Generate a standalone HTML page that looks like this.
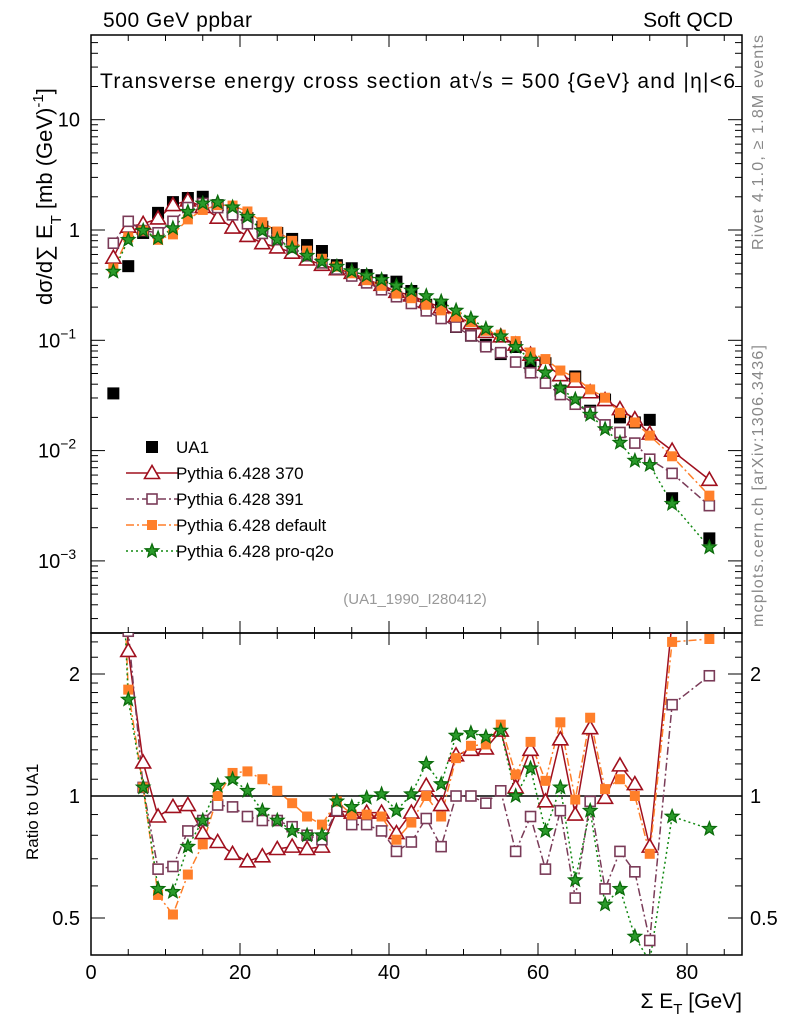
<!DOCTYPE html>
<html><head><meta charset="utf-8"><style>
body{margin:0;background:#fff;}
svg{font-family:"Liberation Sans",sans-serif;}
</style></head><body>
<svg id="c" width="786" height="1024" xmlns="http://www.w3.org/2000/svg">
<defs>
<clipPath id="clipTop"><rect x="91" y="35" width="651" height="598"/></clipPath>
<clipPath id="clipBot"><rect x="91" y="633" width="651" height="322"/></clipPath>
</defs>
<text x="103" y="27" font-size="21" textLength="149">500 GeV ppbar</text>
<text x="733" y="27" font-size="21" text-anchor="end">Soft QCD</text>
<text x="100" y="88" font-size="21" textLength="635">Transverse energy cross section at√s = 500 {GeV} and |η|&lt;6</text>
<text transform="translate(763,250) rotate(-90)" font-size="16" textLength="215" fill="#888">Rivet 4.1.0, ≥ 1.8M events</text>
<text transform="translate(763,627) rotate(-90)" font-size="16" textLength="282" fill="#888">mcplots.cern.ch [arXiv:1306.3436]</text>
<text x="415" y="604" font-size="15" fill="#999" text-anchor="middle">(UA1_1990_I280412)</text>
<text transform="translate(52,305) rotate(-90)" font-size="22">dσ/d∑ E<tspan font-size="15" dy="9">T</tspan><tspan dy="-9"> [mb (GeV)</tspan><tspan font-size="15" dy="-9">-1</tspan><tspan dy="9">]</tspan></text>
<text transform="translate(38,860) rotate(-90)" font-size="17">Ratio to UA1</text>
<text x="742" y="1008" font-size="21" text-anchor="end">Σ E<tspan font-size="15" dy="6">T</tspan><tspan dy="-6"> [GeV]</tspan></text>
<g id="g"></g>
</svg>
<script>
const xs=[3,5,7,9,11,13,15,17,19,21,23,25,27,29,31,33,35,37,39,41,43,45,47,49,51,53,55,57,59,61,63,65,67,69,71,73,75,78,83];
const ua1=[0.033,0.47,0.94,1.43,1.79,1.95,2.0,1.68,1.46,1.28,1.07,0.94,0.83,0.73,0.645,0.48,0.45,0.39,0.35,0.34,0.28,0.21,0.21,0.132,0.11,0.091,0.075,0.087,0.057,0.062,0.035,0.047,0.023,0.029,0.020,0.018,0.019,0.0037,0.0016];
const r370=[17,2.28,1.21,0.89,0.94,0.95,0.81,0.77,0.72,0.69,0.71,0.74,0.75,0.74,0.75,0.92,0.91,0.91,0.91,0.81,0.91,1.06,0.95,1.26,1.3,1.31,1.45,1.05,1.3,0.97,1.38,0.9,1.47,0.99,1.19,1.07,0.75,2.7,3.4];
const r391=[23,2.55,1.05,0.66,0.67,0.82,0.87,0.95,0.94,0.89,0.87,0.87,0.84,0.8,0.78,0.92,0.85,0.85,0.82,0.73,0.77,0.88,0.75,1.0,1.0,0.96,1.03,0.73,0.89,0.66,0.92,0.56,0.97,0.59,0.73,0.65,0.44,1.68,1.98];
const rdef=[13.6,1.83,1.05,0.57,0.51,0.64,0.76,1.0,1.14,1.15,1.1,1.03,0.96,0.89,0.85,0.97,0.9,0.9,0.89,0.78,0.86,1.0,0.89,1.24,1.33,1.34,1.5,1.13,1.36,1.09,1.52,0.98,1.56,1.04,1.1,1.0,0.72,2.4,2.44];
const rpro=[12.7,1.73,1.05,0.59,0.58,0.75,0.87,1.06,1.1,1.03,0.92,0.87,0.82,0.8,0.8,0.97,0.94,0.99,1.01,0.92,1.01,1.2,1.07,1.41,1.43,1.4,1.45,1.0,1.17,0.82,1.05,0.62,0.92,0.54,0.59,0.45,0.39,0.89,0.83];
const legendNames=["UA1","Pythia 6.428 370","Pythia 6.428 391","Pythia 6.428 default","Pythia 6.428 pro-q2o"];
const xTicks=[0,20,40,60,80];
const yTopTicks=[1,0,-1,-2,-3];
const yRatTicks=[2,1,0.5];

const NS="http://www.w3.org/2000/svg";
const G=document.getElementById('g');
const X=v=>91+v*7.45;
const Y=v=>230-110.3*Math.log10(v);
const R=v=>796-122*Math.log2(v);
function el(t,a,p){const e=document.createElementNS(NS,t);for(const k in a)e.setAttribute(k,a[k]);(p||G).appendChild(e);return e;}
const f1=el('rect',{x:91,y:35,width:651,height:598,fill:'none',stroke:'#000','stroke-width':1.5});


const f2=el('rect',{x:91,y:633,width:651,height:322,fill:'none',stroke:'#000','stroke-width':1.5});


for(let v=0;v<=85;v+=5){const m=v%20===0;const L=m?12:6;
 for(const [yt,yb] of [[35,633],[633,955]]){el('line',{x1:X(v),x2:X(v),y1:yt,y2:yt+L,stroke:'#000'});el('line',{x1:X(v),x2:X(v),y1:yb,y2:yb-L,stroke:'#000'});}}
xTicks.forEach(v=>{const t=el('text',{x:X(v),y:979,'font-size':20,'text-anchor':'middle'});t.textContent=v;
 
 });
for(let d=-4;d<=1;d++){for(let k=1;k<10;k++){const v=k*Math.pow(10,d);const y=Y(v);if(y<35||y>633)continue;const L=k===1?14:7;
 el('line',{x1:91,x2:91+L,y1:y,y2:y,stroke:'#000'});el('line',{x1:742,x2:742-L,y1:y,y2:y,stroke:'#000'});}}
yTopTicks.forEach(e=>{const y=Y(Math.pow(10,e))+7;
 const t=el('text',{x:80,y:y,'font-size':20,'text-anchor':'end'});
 
 
 if(e===1)t.textContent='10';else if(e===0)t.textContent='1';
 else{t.setAttribute('text-anchor','start');t.setAttribute('x',38);t.textContent='10';const s=el('tspan',{'font-size':14,dy:-9},t);s.textContent='−'+(-e);}
});
[0.5,0.6,0.7,0.8,0.9,1,1.1,1.2,1.3,1.4,1.5,1.6,1.7,1.8,1.9,2,2.2,2.4].forEach(v=>{const y=R(v);const m=(v===0.5||v===1||v===2);const L=m?14:7;
 el('line',{x1:91,x2:91+L,y1:y,y2:y,stroke:'#000'});el('line',{x1:742,x2:742-L,y1:y,y2:y,stroke:'#000'});});
yRatTicks.forEach(v=>{const y=R(v)+7;
 const t=el('text',{x:80,y:y,'font-size':20,'text-anchor':'end'});t.textContent=v;
 
 
 const t2=el('text',{x:750,y:y,'font-size':20});t2.textContent=v;
 
 });
const one=el('line',{x1:91,x2:742,y1:R(1),y2:R(1),stroke:'#000','stroke-width':1.5});



function marker(p,type,x,y,col){
 if(type==='ua1')return el('rect',{x:x-6,y:y-6,width:12,height:12,fill:'#000'},p);
 if(type==='tri')return el('polygon',{points:`${x},${y-7.5} ${x-7.5},${y+5.5} ${x+7.5},${y+5.5}`,fill:'#fff',stroke:col,'stroke-width':1.6},p);
 if(type==='osq')return el('rect',{x:x-5,y:y-5,width:10,height:10,fill:'#fff',stroke:col,'stroke-width':1.6},p);
 if(type==='fsq')return el('rect',{x:x-5,y:y-5,width:10,height:10,fill:col},p);
 if(type==='star'){let pts=[];for(let i=0;i<10;i++){const r=i%2?3:7,a=-Math.PI/2+i*Math.PI/5;pts.push((x+r*Math.cos(a)).toFixed(1)+','+(y+r*Math.sin(a)).toFixed(1));}
  return el('polygon',{points:pts.join(' '),fill:'#2a9a2a',stroke:'#0b6b0b','stroke-width':1.3},p);}
}
const series=[
 {name:'pythia-370',r:r370,type:'tri',col:'#a0101e',dash:''},
 {name:'pythia-391',r:r391,type:'osq',col:'#7a3b58',dash:'8,3,2,3'},
 {name:'pythia-default',r:rdef,type:'fsq',col:'#ff7f2a',dash:'8,3,2,3'},
 {name:'pythia-pro-q2o',r:rpro,type:'star',col:'#118811',dash:'2,3'}];
const gTop=el('g',{'clip-path':'url(#clipTop)'});
const gBot=el('g',{'clip-path':'url(#clipBot)'});
series.forEach(s=>{
 const vals=s.r.map((r,i)=>r*ua1[i]);
 const pl=el('polyline',{points:xs.map((x,i)=>X(x)+','+Y(vals[i])).join(' '),fill:'none',stroke:s.col,'stroke-width':1.5,'stroke-dasharray':s.dash},gTop);
 
 
 const pr=el('polyline',{points:xs.map((x,i)=>X(x)+','+R(s.r[i])).join(' '),fill:'none',stroke:s.col,'stroke-width':1.5,'stroke-dasharray':s.dash},gBot);
 
 
});
xs.forEach((x,i)=>{const m=marker(gTop,'ua1',X(x),Y(ua1[i]));
 
 });
series.forEach(s=>{xs.forEach((x,i)=>{
 const m=marker(gTop,s.type,X(x),Y(s.r[i]*ua1[i]),s.col);
 
 
 const m2=marker(gBot,s.type,X(x),R(s.r[i]),s.col);
 
 
});});
const ly=[447,473,499,525,551];
const lt=[null,...series];
ly.forEach((y,i)=>{
 if(i===0){const m=marker(G,'ua1',152,y);}
 else{const s=lt[i];const l=el('line',{x1:126,x2:178,y1:y,y2:y,stroke:s.col,'stroke-width':1.5,'stroke-dasharray':s.dash});
  
  
  const m=marker(G,s.type,152,y,s.col);}
 const t=el('text',{x:176,y:y+6,'font-size':17});t.textContent=legendNames[i];
 
 
});
</script>
</body></html>
